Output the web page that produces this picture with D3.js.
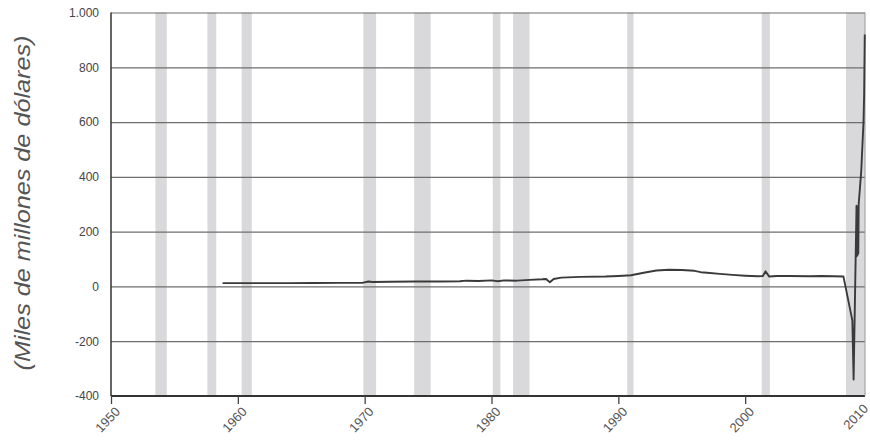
<!DOCTYPE html>
<html>
<head>
<meta charset="utf-8">
<script src="https://cdn.jsdelivr.net/npm/d3@7"></script>
<style>
  html, body { margin: 0; padding: 0; background: #fff; }
  svg { display: block; }
</style>
</head>
<body>
<svg id="chart" width="870" height="442"></svg>
<script>
// ---------------- DATA ----------------
const years = [1958.8, 1960.0, 1962.0, 1964.0, 1966.0, 1968.0, 1969.8, 1970.3, 1970.6, 1972.0, 1974.0, 1976.0,
  1977.5, 1978.0, 1979.0, 1980.0, 1980.5, 1981.0, 1982.0, 1983.0, 1984.0, 1984.3, 1984.6, 1984.9, 1985.5,
  1987.0, 1989.0, 1990.0, 1991.0, 1992.0, 1993.0, 1994.0, 1995.0, 1996.0, 1996.5, 1997.0, 1998.0, 1999.0,
  2000.0, 2001.0, 2001.4, 2001.6, 2001.9, 2002.5, 2003.5, 2005.0, 2006.0, 2007.0, 2007.75,
  2008.45, 2008.55, 2008.78, 2008.80, 2008.83, 2008.86, 2008.89, 2008.92, 2008.95, 2009.15, 2009.33, 2009.38, 2009.43];
const values = [12, 12, 12, 12, 12.5, 13, 13, 18, 16, 17, 18, 18,
  19, 21, 20, 22, 19, 22, 21, 24, 26, 27, 15, 27, 32,
  35, 36, 38, 41, 50, 58, 61, 60, 57, 52, 50, 46, 42,
  39, 37, 38, 55, 36, 38, 38, 37, 38, 37, 36,
  -124, -340, 295, 110, 290, 115, 285, 120, 300, 420, 600, 700, 920];

const recessions = [[1953.5, 1954.4], [1957.6, 1958.3], [1960.3, 1961.1], [1969.9, 1970.9],
  [1973.9, 1975.2], [1980.1, 1980.7], [1981.7, 1983.0], [1990.7, 1991.2], [2001.3, 2001.95], [2007.95, 2009.45]];

const yTicks = [-400, -200, 0, 200, 400, 600, 800, 1000];
const yTickLabels = ["-400", "-200", "0", "200", "400", "600", "800", "1.000"];
const xTicks = [1950, 1960, 1970, 1980, 1990, 2000, 2010];
const xTickLabels = ["1950", "1960", "1970", "1980", "1990", "2000", "2010"];
const yTitle = "(Miles de millones de dólares)";

// ---------------- LAYOUT ----------------
const svg = d3.select("#chart");
const pL = 111, pR = 865, pT = 12.5, pB = 396;
const x = d3.scaleLinear().domain([1950, 2010]).range([pL, 872]);
const y = d3.scaleLinear().domain([-400, 1000]).range([pB, pT]);

// recession bands
svg.append("g").selectAll("rect").data(recessions).join("rect")
  .attr("x", d => x(d[0]))
  .attr("width", d => Math.min(x(d[1]), pR) - x(d[0]))
  .attr("y", pT)
  .attr("height", pB - pT)
  .attr("fill", "#d9d9db");

// horizontal gridlines
const yAxis = d3.axisLeft(y).tickValues(yTicks)
  .tickFormat((d, i) => yTickLabels[i])
  .tickSize(-(pR - pL)).tickPadding(12);
const gy = svg.append("g").attr("transform", `translate(${pL},0)`).call(yAxis);
gy.select(".domain").remove();
gy.selectAll(".tick line").attr("stroke", "#6e6e6e").attr("stroke-width", 1.2);
gy.selectAll(".tick text")
  .attr("fill", "#444").attr("font-family", "Liberation Sans, Arial, sans-serif")
  .attr("font-size", 12);

// frame
svg.append("line").attr("x1", pL).attr("x2", pL).attr("y1", pT).attr("y2", pB)
  .attr("stroke", "#333").attr("stroke-width", 1.5);
svg.append("line").attr("x1", pL).attr("x2", pR).attr("y1", pB).attr("y2", pB)
  .attr("stroke", "#333").attr("stroke-width", 1.8);
svg.append("line").attr("x1", pR).attr("x2", pR).attr("y1", pT).attr("y2", pB)
  .attr("stroke", "#999").attr("stroke-width", 1);

// x axis ticks and labels
const xAxis = d3.axisBottom(x).tickValues(xTicks).tickFormat((d, i) => xTickLabels[i]).tickSize(8).tickPadding(4);
const gx = svg.append("g").attr("transform", `translate(0,${pB})`).call(xAxis);
gx.select(".domain").remove();
gx.selectAll(".tick line").attr("stroke", "#444").attr("stroke-width", 1.3);
gx.selectAll(".tick text")
  .attr("fill", "#555").attr("font-family", "Liberation Sans, Arial, sans-serif")
  .attr("font-size", 13)
  .attr("text-anchor", "end")
  .attr("transform", (d, i) => i === xTicks.length - 1 ? "translate(-7,10) rotate(-47)" : "translate(6,13) rotate(-47)")
  .attr("dy", "0.35em").attr("y", 0).attr("x", 0);

// data line
const pts = years.map((yr, i) => [yr, values[i]]);
const line = d3.line().x(d => x(d[0])).y(d => y(d[1]));
svg.append("path").datum(pts)
  .attr("d", line)
  .attr("fill", "none")
  .attr("stroke", "#3a3a3a")
  .attr("stroke-width", 1.9)
  .attr("stroke-linejoin", "round");

// y title
svg.append("text")
  .attr("transform", `translate(30,203) rotate(-90)`)
  .attr("text-anchor", "middle")
  .attr("font-family", "Liberation Sans, Arial, sans-serif")
  .attr("font-style", "italic")
  .attr("font-size", 22)
  .attr("textLength", 335)
  .attr("lengthAdjust", "spacingAndGlyphs")
  .attr("fill", "#555")
  .text(yTitle);
</script>
</body>
</html>
